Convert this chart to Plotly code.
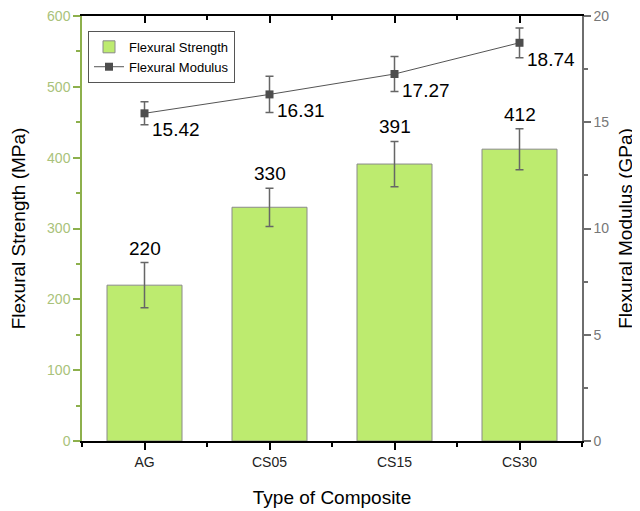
import plotly.graph_objects as go

categories = ["AG", "CS05", "CS15", "CS30"]
strength = [220, 330, 391, 412]
strength_err = [32, 27, 32, 29]
modulus = [15.42, 16.31, 17.27, 18.74]
modulus_err = [0.54, 0.85, 0.82, 0.70]

xpos = list(range(len(categories)))
GREEN_FILL = "#BDEB6F"
GREEN_AXIS = "#8DB04C"
GREEN_TXT = "#A9C27A"
GRAY_AXIS = "#6E6E6E"
FONT = "Arial, Liberation Sans, sans-serif"

fig = go.Figure()
fig.add_trace(go.Bar(
    x=xpos, y=strength, width=0.6, name="Flexural Strength",
    marker=dict(color=GREEN_FILL, line=dict(color="#8A8A8A", width=1)),
    error_y=dict(type="data", array=strength_err, color="#666666", thickness=1.5, width=4),
    xaxis="x", yaxis="y",
))
fig.add_trace(go.Scatter(
    x=xpos, y=modulus, name="Flexural Modulus", mode="lines+markers",
    line=dict(color="#555555", width=1),
    marker=dict(symbol="square", size=8, color="#4D4D4D"),
    error_y=dict(type="data", array=modulus_err, color="#666666", thickness=1.5, width=4),
    xaxis="x", yaxis="y2",
))
# invisible trace to anchor the top axis
fig.add_trace(go.Scatter(x=xpos, y=strength, xaxis="x2", yaxis="y", mode="markers",
                         marker=dict(opacity=0), showlegend=False, hoverinfo="skip"))

for i, (v, e) in enumerate(zip(strength, strength_err)):
    fig.add_annotation(x=i, y=v + e, xref="x", yref="y", text=str(v), showarrow=False,
                       yanchor="bottom", yshift=2, font=dict(size=19, color="black", family=FONT))
for i, v in enumerate(modulus):
    fig.add_annotation(x=i, y=v, xref="x", yref="y2", text=f"{v:.2f}", showarrow=False,
                       xanchor="left", yanchor="top", xshift=5, yshift=-4,
                       font=dict(size=19, color="black", family=FONT))

fig.update_layout(
    width=632, height=503,
    margin=dict(l=74, r=58, t=8, b=70, autoexpand=False),
    paper_bgcolor="white", plot_bgcolor="white",
    font=dict(family=FONT, color="black"),
    showlegend=True,
    legend=dict(x=0.012, y=0.965, xanchor="left", yanchor="top",
                bordercolor="#555555", borderwidth=1, bgcolor="white",
                font=dict(size=13, family=FONT), tracegroupgap=0, itemwidth=30),
    xaxis=dict(range=[-0.5, 3.5], tickmode="array", tickvals=xpos, ticktext=categories,
               automargin=False, ticklabeloverflow="allow",
               showline=True, linecolor="black", linewidth=1.5, ticks="outside", ticklen=7,
               tickcolor="black", tickwidth=1.5, showgrid=False, zeroline=False,
               tickfont=dict(size=14, color="#222222"),
               minor=dict(dtick=0.5, tick0=-0.5, ticks="outside", ticklen=4, tickcolor="black", tickwidth=1.5),
               title=dict(text="Type of Composite", font=dict(size=19), standoff=22)),
    xaxis2=dict(range=[-0.5, 3.5], overlaying="x", side="top", anchor="y", automargin=False,
                tickmode="array", tickvals=xpos, ticktext=["", "", "", ""],
                showline=True, linecolor="black", linewidth=1.5, ticks="inside", ticklen=7,
                tickcolor="black", tickwidth=1.5, showgrid=False, zeroline=False,
                minor=dict(dtick=0.5, tick0=-0.5, ticks="inside", ticklen=4, tickcolor="black", tickwidth=1.5)),
    yaxis=dict(range=[0, 600], dtick=100, showline=True, linecolor=GREEN_AXIS, linewidth=1.5,
               automargin=False, ticklabeloverflow="allow",
               ticks="outside", ticklen=7, tickcolor=GREEN_AXIS, tickwidth=1.5,
               showgrid=False, zeroline=False, tickfont=dict(size=14, color=GREEN_TXT),
               minor=dict(dtick=50, ticks="outside", ticklen=4, tickcolor=GREEN_AXIS, tickwidth=1.5),
               title=dict(text="Flexural Strength (MPa)", font=dict(size=19), standoff=18)),
    yaxis2=dict(range=[0, 20], dtick=5, overlaying="y", side="right", anchor="x",
                automargin=False, ticklabeloverflow="allow",
                showline=True, linecolor=GRAY_AXIS, linewidth=1.5,
                ticks="outside", ticklen=7, tickcolor=GRAY_AXIS, tickwidth=1.5,
                showgrid=False, zeroline=False, tickfont=dict(size=14, color="#777777"),
                minor=dict(dtick=2.5, ticks="outside", ticklen=4, tickcolor=GRAY_AXIS, tickwidth=1.5),
                title=dict(text="Flexural Modulus (GPa)", font=dict(size=19), standoff=10)),
)

fig.write_html("out.html")
